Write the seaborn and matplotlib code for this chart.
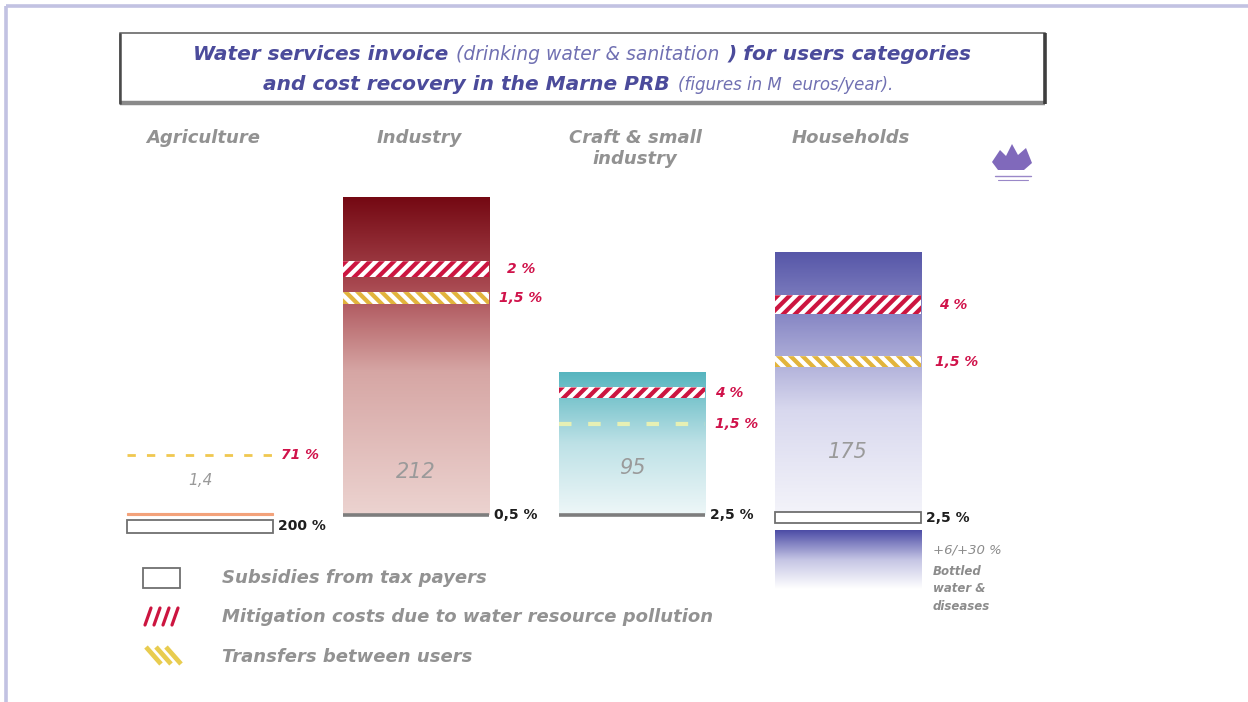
import numpy as np
import pandas as pd
import matplotlib
matplotlib.use("Agg")
import matplotlib.pyplot as plt
from matplotlib.colors import LinearSegmentedColormap
from matplotlib.patches import Rectangle, Polygon
import seaborn as sns

# ---------------- data (M euros / year) ----------------
categories = ["Agriculture", "Industry", "Craft & small\nindustry", "Households"]
invoice = [1.4, 212, 95, 175]
invoice_text = ["1,4", "212", "95", "175"]
mitigation_text = ["", "2 %", "4 %", "4 %"]
transfer_text = ["71 %", "1,5 %", "1,5 %", "1,5 %"]
subsidy_text = ["200 %", "0,5 %", "2,5 %", "2,5 %"]
extra_cost_text = "+6/+30 %"
extra_cost_note = "Bottled\nwater &\ndiseases"
legend_text = ["Subsidies from tax payers",
               "Mitigation costs due to water resource pollution",
               "Transfers between users"]
title_line1 = [("Water services invoice", "bold"),
               ("(drinking water & sanitation", "light"),
               (") for users categories", "bold")]
title_line2 = [("and cost recovery in the Marne PRB", "bold"),
               ("(figures in M  euros/year).", "light")]

# ---------------- layout / style ----------------
W, H, DPI = 1248, 702, 100
X0_PX, X_STEP = 200, 216        # pixel centre of first column, column pitch
BASE_PX, Y_SCALE = 515, 1.5     # baseline row (from top), pixels per M euro
BAR_W = 0.676

GRAY = "#929292"
RED = "#d0124a"
DARK = "#1e1e1e"
TITLE_C = "#4b4b9b"
TITLE_LIGHT = "#7070b2"
STRIPE_RED = "#cc1540"
STRIPE_YEL = "#e2b43c"

# band placement inside each bar, as fraction of bar height
mit_band = [None, (0.798, 0.748), (0.895, 0.820), (0.837, 0.764)]
tr_band = [None, (0.701, 0.663), None, (0.605, 0.562)]
tr_dash = [40.0, None, 0.64, None]          # agriculture: M euros above base, craft: fraction
value_label_y = [23, 29, 31, 42]            # M euros above base
base_style = ["box", "line", "line", "box"]
base_box_px = {0: (5, 18), 3: (-3, 8)}      # px below baseline (top, bottom)
mit_gap = [0, 18, 10, 18]
tr_gap = [8, 10, 10, 14]

bar_colors = ["#f3a27a", "#c98a8a", "#9fd3da", "#a0a0d0"]
cmaps = [
    None,
    LinearSegmentedColormap.from_list("ind", [(0, "#ecd3d0"), (0.45, "#d6a6a4"),
                                              (0.72, "#a84850"), (1, "#740812")]),
    LinearSegmentedColormap.from_list("craft", [(0, "#eef7f8"), (0.5, "#bde1e6"),
                                                (1, "#56b5bf")]),
    LinearSegmentedColormap.from_list("hh", [(0, "#f4f4fa"), (0.4, "#d8d8ee"),
                                             (0.75, "#8a8ac6"), (1, "#5757a8")]),
]

sns.set_theme(style="white")
plt.rcParams["font.family"] = ["DejaVu Sans"]

fig = plt.figure(figsize=(W / DPI, H / DPI), dpi=DPI)
fig.patch.set_facecolor("white")
ax = fig.add_axes([0, 0, 1, 1], label="bars")

df = pd.DataFrame({"category": categories, "invoice": invoice})
sns.barplot(data=df, x="category", y="invoice", hue="category",
            order=categories, hue_order=categories, palette=bar_colors,
            width=BAR_W, dodge=False, legend=False, saturation=1,
            linewidth=0, ax=ax)

bars = sorted(ax.patches, key=lambda p: p.get_x())
grad = np.linspace(0, 1, 256)[:, None]
for i, bar in enumerate(bars):
    if cmaps[i] is None:
        bar.set_edgecolor(bar_colors[0])
        bar.set_linewidth(0.8)
        continue
    x, w, h = bar.get_x(), bar.get_width(), bar.get_height()
    im = ax.imshow(grad, extent=[x, x + w, 0, h], origin="lower", aspect="auto",
                   cmap=cmaps[i], interpolation="bicubic", zorder=bar.get_zorder() + 0.1)
    im.set_clip_path(bar)

ax.set_xlim(-X0_PX / X_STEP, (W - X0_PX) / X_STEP)
ax.set_ylim(-(H - BASE_PX) / Y_SCALE, BASE_PX / Y_SCALE)
ax.axis("off")

# overlay in pixel units (y downwards) for decorations
fx = fig.add_axes([0, 0, 1, 1], label="overlay")
fx.set_facecolor("none")
fx.set_xlim(0, W)
fx.set_ylim(H, 0)
fx.axis("off")


def to_px(xd, yd):
    return fx.transData.inverted().transform(ax.transData.transform((xd, yd)))


def stripes(x0, x1, ytop, ybot, color, direction, period=12, width=6, z=5):
    clip = Rectangle((x0, ytop), x1 - x0, ybot - ytop, facecolor="white",
                     edgecolor="none", zorder=z)
    fx.add_patch(clip)
    h = ybot - ytop
    for xb in np.arange(x0 - h - period, x1 + period, period):
        if direction == "/":
            pts = [(xb, ybot), (xb + width, ybot), (xb + width + h, ytop), (xb + h, ytop)]
        else:
            pts = [(xb, ytop), (xb + width, ytop), (xb + width + h, ybot), (xb + h, ybot)]
        p = Polygon(pts, closed=True, facecolor=color, edgecolor="none", zorder=z + 0.1)
        fx.add_patch(p)
        p.set_clip_path(clip)


label_kw = dict(fontweight="bold", fontstyle="italic", fontsize=10, color=RED, va="center")

for i, bar in enumerate(bars):
    v = invoice[i]
    xl, xr = bar.get_x(), bar.get_x() + bar.get_width()
    lpx, base = to_px(xl, 0)
    rpx, _ = to_px(xr, 0)
    cpx = (lpx + rpx) / 2

    # category heading
    fx.text(cpx + 3, 129, categories[i], ha="center", va="top", fontsize=13,
            fontweight="bold", fontstyle="italic", color=GRAY, linespacing=1.2)

    # mitigation band
    if mit_band[i] is not None:
        yt = to_px(xl, v * mit_band[i][0])[1]
        yb = to_px(xl, v * mit_band[i][1])[1]
        stripes(lpx, rpx, yt, yb, STRIPE_RED, "/")
        fx.text(rpx + mit_gap[i], (yt + yb) / 2, mitigation_text[i], ha="left", **label_kw)

    # transfer band or dashed line
    if tr_band[i] is not None:
        yt = to_px(xl, v * tr_band[i][0])[1]
        yb = to_px(xl, v * tr_band[i][1])[1]
        stripes(lpx, rpx, yt, yb, STRIPE_YEL, "\\", period=12, width=6)
        fx.text(rpx + tr_gap[i], (yt + yb) / 2, transfer_text[i], ha="left", **label_kw)
    elif tr_dash[i] is not None:
        yv = tr_dash[i] if i == 0 else v * tr_dash[i]
        yd = to_px(xl, yv)[1]
        col = "#f0c850" if i == 0 else "#e6f0b4"
        lw = 2 if i == 0 else 3
        fx.plot([lpx, rpx], [yd, yd], color=col, lw=lw, dashes=(3, 4), zorder=6)
        fx.text(rpx + tr_gap[i], yd, transfer_text[i], ha="left", **label_kw)

    # invoice value
    ylab = to_px(xl, value_label_y[i])[1]
    fx.text(cpx, ylab, invoice_text[i], ha="center", va="center",
            fontsize=11 if i == 0 else 15, fontstyle="italic", color="#9a9a9a", zorder=7)

    # subsidies at the base
    if base_style[i] == "box":
        t, b = base_box_px[i]
        fx.add_patch(Rectangle((lpx, base + t), rpx - lpx, b - t, facecolor="white",
                               edgecolor="#6f6f6f", lw=1.3, zorder=8))
        ysub = base + (t + b) / 2
    else:
        fx.plot([lpx, rpx], [base, base], color="#7d7d7d", lw=2.6, zorder=8,
                solid_capstyle="butt")
        ysub = base
    fx.text(rpx + 5, ysub, subsidy_text[i], ha="left", va="center", fontsize=10,
            fontweight="bold", color=DARK, zorder=9)

    # households: hidden extra costs below the base
    if i == 3:
        g = np.linspace(1, 0, 128)[:, None]
        hcm = LinearSegmentedColormap.from_list("extra", ["#ffffff", "#c4c4e4", "#4c4ca6"])
        fx.imshow(g, extent=[lpx, rpx, base + 74, base + 15], origin="upper",
                  aspect="auto", cmap=hcm, vmin=0, vmax=1, interpolation="bicubic", zorder=4)
        fx.text(rpx + 12, base + 35, extra_cost_text, ha="left", va="center",
                fontsize=9.5, fontstyle="italic", color="#8c8c8c")
        fx.text(rpx + 12, base + 50, extra_cost_note, ha="left", va="top",
                fontsize=8.5, fontweight="bold", fontstyle="italic", color="#8c8c8c",
                linespacing=1.45)

# ---------------- title box ----------------
fx.add_patch(Rectangle((120, 33), 925, 70, facecolor="white", edgecolor="#5a5a5a",
                       lw=1.1, zorder=2))
fx.plot([120, 1045], [103, 103], color="#8a8a8a", lw=3.2, zorder=3, solid_capstyle="butt")
fx.plot([1045, 1045], [33, 104], color="#3e3e3e", lw=2.6, zorder=3, solid_capstyle="butt")
fx.plot([120, 120], [33, 104], color="#4a4a4a", lw=1.8, zorder=3, solid_capstyle="butt")

renderer = fig.canvas.get_renderer()


def title_line(pieces, y, cx, bold_size, light_size):
    texts = []
    for s, kind in pieces:
        if kind == "bold":
            t = fx.text(0, y, s, fontsize=bold_size, fontweight="bold", fontstyle="italic",
                        color=TITLE_C, va="center", ha="left", zorder=4)
        else:
            t = fx.text(0, y, s, fontsize=light_size, fontstyle="italic",
                        color=TITLE_LIGHT, va="center", ha="left", zorder=4)
        texts.append(t)
    widths = [t.get_window_extent(renderer=renderer).width for t in texts]
    gap = 8
    x = cx - (sum(widths) + gap * (len(texts) - 1)) / 2
    for t, w in zip(texts, widths):
        t.set_x(x)
        x += w + gap


title_line(title_line1, 55, 582, 14.5, 13.5)
title_line(title_line2, 85, 578, 14.5, 12)

# ---------------- legend ----------------
fx.add_patch(Rectangle((143, 568), 37, 20, facecolor="white", edgecolor="#6f6f6f", lw=1.3))
for k in range(4):
    fx.plot([145 + 9 * k, 151 + 9 * k], [625, 608], color=STRIPE_RED, lw=2.3,
            solid_capstyle="round")
for k in range(3):
    fx.plot([146 + 10 * k, 161 + 10 * k], [647, 664], color="#e8cc50", lw=3.4,
            solid_capstyle="butt")
for txt, y in zip(legend_text, [578, 617, 657]):
    fx.text(222, y, txt, ha="left", va="center", fontsize=13, fontweight="bold",
            fontstyle="italic", color=GRAY)

# ---------------- emblem ----------------
fx.add_patch(Polygon([(992, 162), (1000, 150), (1006, 156), (1012, 144), (1018, 155),
                      (1026, 148), (1032, 163), (1024, 170), (998, 170)],
                     closed=True, facecolor="#6a4fb0", edgecolor="none", alpha=0.85))
fx.plot([995, 1031], [176, 176], color="#9a88c8", lw=1)
fx.plot([998, 1028], [180, 180], color="#9a88c8", lw=0.8)

# ---------------- page frame ----------------
fx.plot([6, W], [6, 6], color="#c2c2e2", lw=2.6, solid_capstyle="butt")
fx.plot([6, 6], [6, H], color="#c2c2e2", lw=2.6, solid_capstyle="butt")

fx.set_xlim(0, W)
fx.set_ylim(H, 0)

fig.savefig("out.png", dpi=DPI, facecolor="white")
